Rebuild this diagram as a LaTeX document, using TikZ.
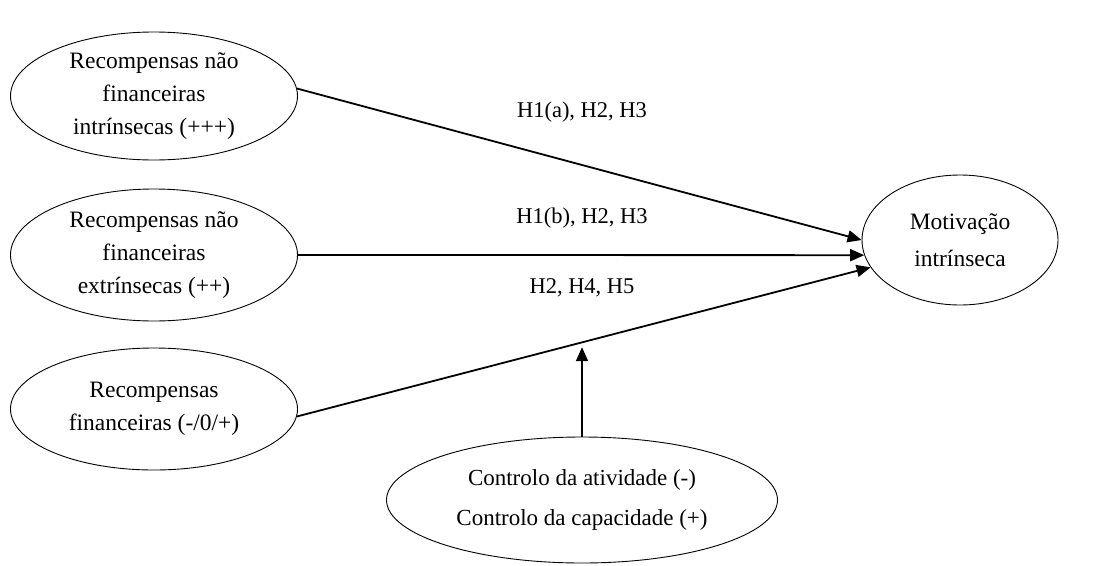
\documentclass[tikz,border=0pt]{standalone}
\usepackage{fontspec}
\setmainfont{Liberation Serif}
\usetikzlibrary{shapes.geometric,arrows.meta,calc}
\begin{document}
\begin{tikzpicture}[x=1pt,y=-1pt,
  ell/.style={draw, ellipse, line width=0.9pt, inner sep=0pt, align=center,
    font=\fontsize{23.5}{33}\selectfont},
  conn/.style={line width=1.8pt, -{Triangle[length=14pt,width=12pt]}},
  lbl/.style={font=\fontsize{22.5}{27}\selectfont}]
\useasboundingbox (0,0) rectangle (1094,565);
\node[ell, minimum width=287pt, minimum height=128pt] (e1) at (154,96)
  {Recompensas não\\financeiras\\intrínsecas (+++)};
\node[ell, minimum width=287pt, minimum height=132pt] (e2) at (154,255)
  {Recompensas não\\financeiras\\extrínsecas (++)};
\node[ell, minimum width=287pt, minimum height=122pt] (e3) at (154,409)
  {Recompensas\\financeiras (-/0/+)};
\node[ell, minimum width=196pt, minimum height=130pt,
  font=\fontsize{23.5}{37}\selectfont] (m) at (960,240)
  {Motivação\\intrínseca};
\node[ell, minimum width=391pt, minimum height=126pt,
  font=\fontsize{23}{40}\selectfont] (c) at (582,500)
  {Controlo da atividade (-)\\Controlo da capacidade (+)};
\draw[conn] (e1.3) -- (m.180);
\draw[conn] (e2.0) -- (m.189);
\draw[conn] (e3.-3) -- (m.197);
\coordinate (x) at ($(e3.-3)!0.505!(m.197)$);
\draw[conn] (c.north) -- ([yshift=-6pt]c.north |- x);
\node[lbl] (l1) at (582,112) {H1(a), H2, H3};
\node[lbl] (l2) at (582,218) {H1(b), H2, H3};
\node[lbl] (l3) at (582,288) {H2, H4, H5};
\end{tikzpicture}
\end{document}
